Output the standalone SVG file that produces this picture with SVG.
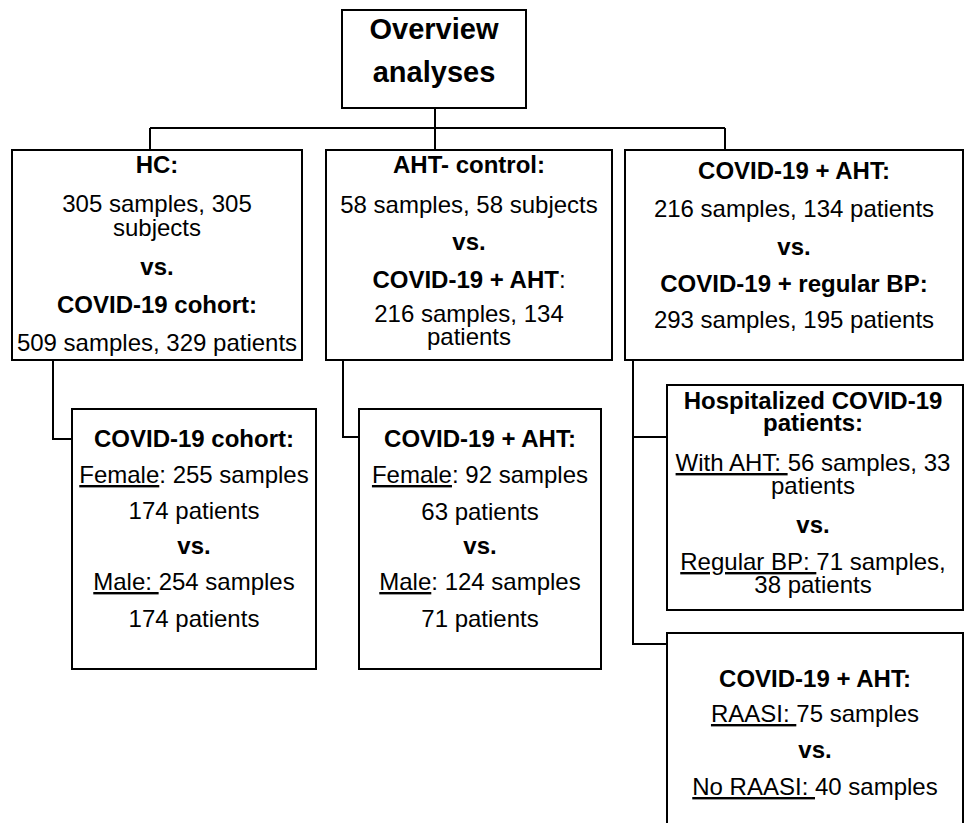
<svg xmlns="http://www.w3.org/2000/svg" width="965" height="823" viewBox="0 0 965 823">
<style>
.box{fill:#fff;stroke:#000;stroke-width:2}
.ln{fill:none;stroke:#000;stroke-width:2}
text{font-family:"Liberation Sans",Arial,sans-serif;font-size:24px;fill:#000;text-anchor:middle}
.b{font-weight:bold}
.t{font-size:29px;font-weight:bold}
.u{text-decoration:underline}
</style>
<rect width="965" height="823" fill="#fff"/>
<g id="connectors">
<path class="ln" d="M435 108V128M150 128H725M150 128V150M435 128V150M725 128V150"/>
<path class="ln" d="M53 360V439H72M343 360V437H359M633 360V644H667M633 437H667"/>
</g>
<g id="overview">
<rect class="box" x="342" y="10" width="184" height="98"/>
<text class="t" x="434" y="39">Overview</text>
<text class="t" x="434" y="82">analyses</text>
</g>
<g id="hc">
<rect class="box" x="12" y="150" width="290" height="210"/>
<text class="b" x="157" y="173">HC:</text>
<text x="157" y="212">305 samples, 305<tspan x="157" dy="24">subjects</tspan></text>
<text class="b" x="157" y="275">vs.</text>
<text class="b" x="157" y="313">COVID-19 cohort:</text>
<text x="157" y="351">509 samples, 329 patients</text>
</g>
<g id="aht">
<rect class="box" x="326" y="150" width="286" height="210"/>
<text class="b" x="469" y="173">AHT- control:</text>
<text x="469" y="213">58 samples, 58 subjects</text>
<text class="b" x="469" y="250">vs.</text>
<text x="469" y="288"><tspan class="b">COVID-19 + AHT</tspan>:</text>
<text x="469" y="322">216 samples, 134<tspan x="469" dy="23">patients</tspan></text>
</g>
<g id="bp">
<rect class="box" x="625" y="150" width="338" height="210"/>
<text class="b" x="794" y="179">COVID-19 + AHT:</text>
<text x="794" y="217">216 samples, 134 patients</text>
<text class="b" x="794" y="255">vs.</text>
<text class="b" x="794" y="292">COVID-19 + regular BP:</text>
<text x="794" y="328">293 samples, 195 patients</text>
</g>
<g id="hc-sex">
<rect class="box" x="72" y="409" width="244" height="260"/>
<text class="b" x="194" y="447">COVID-19 cohort:</text>
<text x="194" y="483"><tspan class="u">Female</tspan>: 255 samples</text>
<text x="194" y="519">174 patients</text>
<text class="b" x="194" y="554">vs.</text>
<text x="194" y="590" xml:space="preserve"><tspan class="u">Male: </tspan>254 samples</text>
<text x="194" y="627">174 patients</text>
</g>
<g id="aht-sex">
<rect class="box" x="359" y="409" width="242" height="260"/>
<text class="b" x="480" y="447">COVID-19 + AHT:</text>
<text x="480" y="483"><tspan class="u">Female</tspan>: 92 samples</text>
<text x="480" y="520">63 patients</text>
<text class="b" x="480" y="554">vs.</text>
<text x="480" y="590"><tspan class="u">Male</tspan>: 124 samples</text>
<text x="480" y="627">71 patients</text>
</g>
<g id="hospitalized">
<rect class="box" x="667" y="385" width="296" height="225"/>
<text class="b" x="813" y="409">Hospitalized COVID-19<tspan x="813" dy="22">patients:</tspan></text>
<text x="813" y="471" xml:space="preserve"><tspan class="u">With AHT: </tspan>56 samples, 33<tspan x="813" dy="23">patients</tspan></text>
<text class="b" x="813" y="533">vs.</text>
<text x="813" y="570" xml:space="preserve"><tspan class="u">Regular BP: </tspan>71 samples,<tspan x="813" dy="23">38 patients</tspan></text>
</g>
<g id="raasi">
<rect class="box" x="667" y="633" width="296" height="200"/>
<text class="b" x="815" y="687">COVID-19 + AHT:</text>
<text x="815" y="722" xml:space="preserve"><tspan class="u">RAASI: </tspan>75 samples</text>
<text class="b" x="815" y="758">vs.</text>
<text x="815" y="795" xml:space="preserve"><tspan class="u">No RAASI: </tspan>40 samples</text>
</g>
</svg>
